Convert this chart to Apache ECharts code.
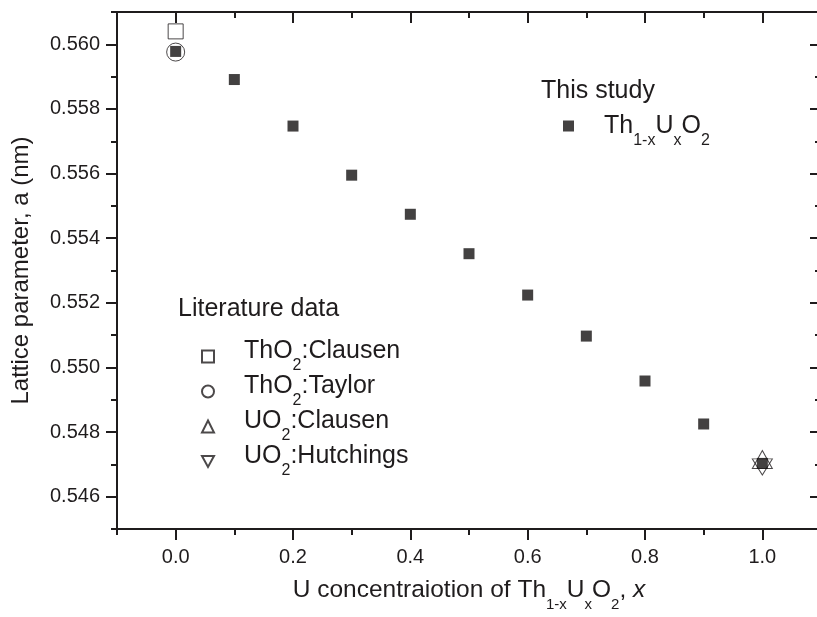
<!DOCTYPE html>
<html>
<head>
<meta charset="utf-8">
<script src="https://cdn.jsdelivr.net/npm/echarts@6/dist/echarts.min.js"></script>
<style>
  html, body { margin: 0; padding: 0; background: #fff; }
  #chart { width: 817px; height: 617px; }
</style>
</head>
<body>
<div id="chart"></div>
<script>
// U fraction x in Th(1-x)U(x)O2 and measured lattice parameter (nm)
const compositions = [0.0, 0.1, 0.2, 0.3, 0.4, 0.5, 0.6, 0.7, 0.8, 0.9, 1.0];
const latticeThisStudy = [0.55978, 0.55891, 0.55747, 0.55595, 0.55474, 0.55352, 0.55224, 0.55097, 0.54958, 0.54825, 0.54703];

// literature end-member values [x, a]
const thO2Clausen = [[0.0, 0.56040]];
const thO2Taylor = [[0.0, 0.55976]];
const uO2Clausen = [[1.0, 0.54715]];
const uO2Hutchings = [[1.0, 0.54692]];

// axis ticks
const xMajorTicks = [0.0, 0.2, 0.4, 0.6, 0.8, 1.0];
const xMinorTicks = [-0.1, 0.1, 0.3, 0.5, 0.7, 0.9, 1.1];
const yMajorTicks = [0.546, 0.548, 0.550, 0.552, 0.554, 0.556, 0.558, 0.560];
const yMinorTicks = [0.545, 0.547, 0.549, 0.551, 0.553, 0.555, 0.557, 0.559, 0.561];

const ink = '#1f1c1d';
const markInk = '#141112';
const font = '"Liberation Sans", Arial, sans-serif';
const downTriangle = 'path://M0,0L20,0L10,18Z';

// rich-text styles for chemical formulas: the {pad}/{strut} token sets the
// line box height, subscripts sit at its bottom
function formulaRich(size, subSize, lineH, mainAlign) {
  return {
    m: { fontSize: size, verticalAlign: mainAlign, fontFamily: font, color: ink },
    i: { fontSize: size, verticalAlign: mainAlign, fontFamily: font, color: ink, fontStyle: 'italic' },
    s: { fontSize: subSize, lineHeight: subSize, verticalAlign: 'bottom', fontFamily: font, color: ink },
    pad: { width: 25, fontSize: size, lineHeight: lineH, verticalAlign: 'top' },
    strut: { width: 0, fontSize: size, lineHeight: lineH, verticalAlign: 'top' }
  };
}

const legendLabels = {
  'Th1-xUxO2': '{pad|\u00a0}{m|Th}{s|1-x}{m|U}{s|x}{m|O}{s|2}',
  'ThO2:Clausen': '{pad|\u00a0}{m|ThO}{s|2}{m|:Clausen}',
  'ThO2:Taylor': '{pad|\u00a0}{m|ThO}{s|2}{m|:Taylor}',
  'UO2:Clausen': '{pad|\u00a0}{m|UO}{s|2}{m|:Clausen}',
  'UO2:Hutchings': '{pad|\u00a0}{m|UO}{s|2}{m|:Hutchings}'
};

function valueAxis(extra) {
  return Object.assign({
    type: 'value',
    splitLine: { show: false },
    axisLine: { show: false, onZero: false, lineStyle: { color: ink, width: 2 } },
    axisTick: { show: true, lineStyle: { color: ink, width: 2 } },
    axisLabel: { show: false }
  }, extra);
}

const xRange = { min: -0.1, max: 1.1 };
const yRange = { min: 0.545, max: 0.561 };
const tickStyle = { color: ink, width: 2 };

const chart = echarts.init(document.getElementById('chart'), null, { renderer: 'canvas' });

chart.setOption({
  backgroundColor: '#fff',
  animation: false,
  grid: { left: 117, top: 12, right: -4, bottom: 88, containLabel: false, outerBoundsMode: 'none' },
  xAxis: [
    valueAxis(Object.assign({}, xRange, {
      position: 'bottom',
      axisLine: { show: true, onZero: false, lineStyle: tickStyle },
      axisTick: { show: true, customValues: xMajorTicks, length: 11, lineStyle: tickStyle },
      axisLabel: {
        show: true, customValues: xMajorTicks, margin: 18,
        formatter: v => v.toFixed(1),
        fontSize: 20, fontFamily: font, color: ink
      },
      name: '{strut|}{m|U concentraiotion of Th}{s|1-x}{m|U}{s|x}{m|O}{s|2}{m|, }{i|x}',
      nameLocation: 'middle',
      nameGap: 49,
      nameTextStyle: { rich: formulaRich(24.5, 15, 34, 'top') }
    })),
    valueAxis(Object.assign({}, xRange, {
      position: 'bottom',
      axisTick: { show: true, customValues: xMinorTicks, length: 6, lineStyle: tickStyle }
    })),
    valueAxis(Object.assign({}, xRange, {
      position: 'top',
      axisLine: { show: true, onZero: false, lineStyle: tickStyle },
      axisTick: { show: true, inside: true, customValues: xMajorTicks, length: 11, lineStyle: tickStyle }
    })),
    valueAxis(Object.assign({}, xRange, {
      position: 'top',
      axisTick: { show: true, inside: true, customValues: xMinorTicks, length: 6, lineStyle: tickStyle }
    }))
  ],
  yAxis: [
    valueAxis(Object.assign({}, yRange, {
      position: 'left',
      axisLine: { show: true, onZero: false, lineStyle: tickStyle },
      axisTick: { show: true, customValues: yMajorTicks, length: 11, lineStyle: tickStyle },
      axisLabel: {
        show: true, customValues: yMajorTicks, margin: 17,
        formatter: v => v.toFixed(3),
        fontSize: 20, fontFamily: font, color: ink
      },
      name: 'Lattice parameter, a (nm)',
      nameLocation: 'middle',
      nameGap: 84,
      nameTextStyle: { fontSize: 24, fontFamily: font, color: ink }
    })),
    valueAxis(Object.assign({}, yRange, {
      position: 'left',
      axisTick: { show: true, customValues: yMinorTicks, length: 6, lineStyle: tickStyle }
    })),
    valueAxis(Object.assign({}, yRange, {
      position: 'right',
      axisTick: { show: true, inside: true, customValues: yMajorTicks, length: 11, lineStyle: tickStyle }
    })),
    valueAxis(Object.assign({}, yRange, {
      position: 'right',
      axisTick: { show: true, inside: true, customValues: yMinorTicks, length: 6, lineStyle: tickStyle }
    }))
  ],
  legend: [
    {
      data: ['Th1-xUxO2'],
      orient: 'vertical',
      left: 563, top: 103,
      padding: 0,
      itemWidth: 11, itemHeight: 11,
      selectedMode: false,
      formatter: name => legendLabels[name],
      textStyle: { rich: formulaRich(25, 16, 46, 'middle') }
    },
    {
      data: ['ThO2:Clausen', 'ThO2:Taylor', 'UO2:Clausen', 'UO2:Hutchings'],
      orient: 'vertical',
      left: 201, top: 339,
      padding: 0,
      itemWidth: 12, itemHeight: 12,
      itemGap: 0,
      selectedMode: false,
      formatter: name => legendLabels[name],
      textStyle: { rich: formulaRich(25, 16, 35, 'top') }
    }
  ],
  graphic: [
    { type: 'text', left: 541, top: 79, style: { text: 'This study', font: '25px ' + font, fill: ink } },
    { type: 'text', left: 178, top: 297, style: { text: 'Literature data', font: '25px ' + font, fill: ink } }
  ],
  series: [
    {
      name: 'ThO2:Clausen', type: 'scatter', xAxisIndex: 0, yAxisIndex: 0,
      symbol: 'rect', symbolSize: 15,
      itemStyle: { color: 'rgba(255,255,255,0)', borderColor: ink, borderWidth: 1 },
      data: thO2Clausen, z: 2
    },
    {
      name: 'ThO2:Taylor', type: 'scatter', xAxisIndex: 0, yAxisIndex: 0,
      symbol: 'circle', symbolSize: 18,
      itemStyle: { color: 'rgba(255,255,255,0)', borderColor: ink, borderWidth: 1 },
      data: thO2Taylor, z: 2
    },
    {
      name: 'UO2:Clausen', type: 'scatter', xAxisIndex: 0, yAxisIndex: 0,
      symbol: 'triangle', symbolSize: [20, 18],
      itemStyle: { color: 'rgba(255,255,255,0)', borderColor: ink, borderWidth: 1 },
      data: uO2Clausen, z: 2
    },
    {
      name: 'UO2:Hutchings', type: 'scatter', xAxisIndex: 0, yAxisIndex: 0,
      symbol: downTriangle, symbolKeepAspect: true, symbolSize: [20, 18],
      itemStyle: { color: 'rgba(255,255,255,0)', borderColor: ink, borderWidth: 1 },
      data: uO2Hutchings, z: 2
    },
    {
      name: 'Th1-xUxO2', type: 'scatter', xAxisIndex: 0, yAxisIndex: 0,
      symbol: 'rect', symbolSize: 11,
      itemStyle: { color: markInk },
      data: compositions.map((x, k) => [x, latticeThisStudy[k]]),
      z: 3
    }
  ]
});
</script>
</body>
</html>
